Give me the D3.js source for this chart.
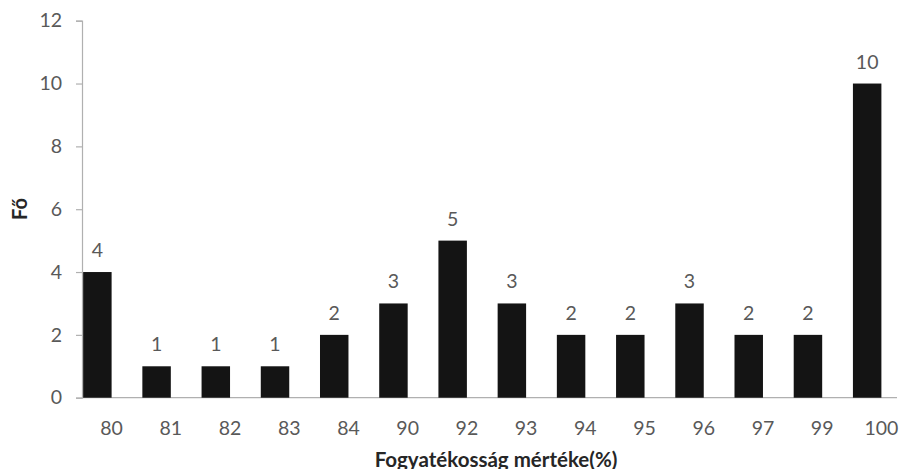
<!DOCTYPE html>
<html>
<head>
<meta charset="utf-8">
<script src="https://cdn.jsdelivr.net/npm/d3@7"></script>
<style>
  html, body { margin: 0; padding: 0; background: #fff; }
  svg { display: block; }
  text { font-family: Lato, "Open Sans", sans-serif; fill: #595959; }
</style>
</head>
<body>
<svg id="chart" width="902" height="469"></svg>
<script>
// Degree of disability (%) and number of people
const categories = ["80", "81", "82", "83", "84", "90", "92", "93", "94", "95", "96", "97", "99", "100"];
const counts = [4, 1, 1, 1, 2, 3, 5, 3, 2, 2, 3, 2, 2, 10];
const yTicks = [0, 2, 4, 6, 8, 10, 12];
const xTitle = "Fogyatékosság mértéke(%)";
const yTitle = "Fő";

(function draw() {
  const svg = d3.select("#chart");
  const plotLeft = 82, plotRight = 911, plotTop = 20.7, plotBottom = 397.7;

  const x = d3.scaleBand().domain(categories).range([plotLeft, plotRight]);
  // the bar sits in the first half of each category slot
  const slot = d3.scaleBand().domain([0, 1]).range([0, x.bandwidth()]).paddingOuter(0.04);
  const y = d3.scaleLinear().domain([0, 12]).range([plotBottom, plotTop]);

  // y axis
  const yAxis = d3.axisLeft(y).tickValues(yTicks).tickSize(6).tickPadding(14);
  const gy = svg.append("g").attr("transform", `translate(${plotLeft},0)`).call(yAxis);
  gy.select(".domain").attr("stroke", "#b0b0b0").attr("stroke-width", 1.2);
  gy.selectAll(".tick line").attr("stroke", "#b0b0b0").attr("stroke-width", 1.2);
  gy.selectAll(".tick text").attr("font-size", 19.5).style("font-family", "Lato, sans-serif").attr("fill", "#595959");

  // x axis
  const xAxis = d3.axisBottom(x).tickSize(0).tickPadding(23);
  const gx = svg.append("g").attr("transform", `translate(0,${plotBottom})`).call(xAxis);
  gx.select(".domain").attr("d", `M${plotLeft},0H897`).attr("stroke", "#b0b0b0").attr("stroke-width", 1.2);
  gx.selectAll(".tick text").attr("font-size", 19.5).style("font-family", "Lato, sans-serif").attr("fill", "#595959");

  // bars
  svg.append("g").selectAll("rect")
    .data(categories)
    .join("rect")
    .attr("x", (c) => x(c) + slot(0))
    .attr("y", (c, i) => y(counts[i]))
    .attr("width", slot.bandwidth())
    .attr("height", (c, i) => plotBottom - y(counts[i]))
    .attr("fill", "#141414");

  // value labels
  svg.append("g").selectAll("text")
    .data(categories)
    .join("text")
    .attr("x", (c) => x(c) + slot(0) + slot.bandwidth() / 2)
    .attr("y", (c, i) => y(counts[i]) - 15)
    .attr("text-anchor", "middle")
    .attr("font-size", 19.5)
    .text((c, i) => counts[i]);

  // axis titles
  svg.append("text")
    .attr("x", 496).attr("y", 466.5)
    .attr("text-anchor", "middle")
    .attr("font-size", 20.5).attr("font-weight", "bold")
    .style("fill", "#262626")
    .text(xTitle);

  svg.append("text")
    .attr("transform", "translate(27,209) rotate(-90)")
    .attr("text-anchor", "middle")
    .attr("font-size", 20).attr("font-weight", "bold")
    .style("fill", "#262626")
    .text(yTitle);
})();
</script>
</body>
</html>
